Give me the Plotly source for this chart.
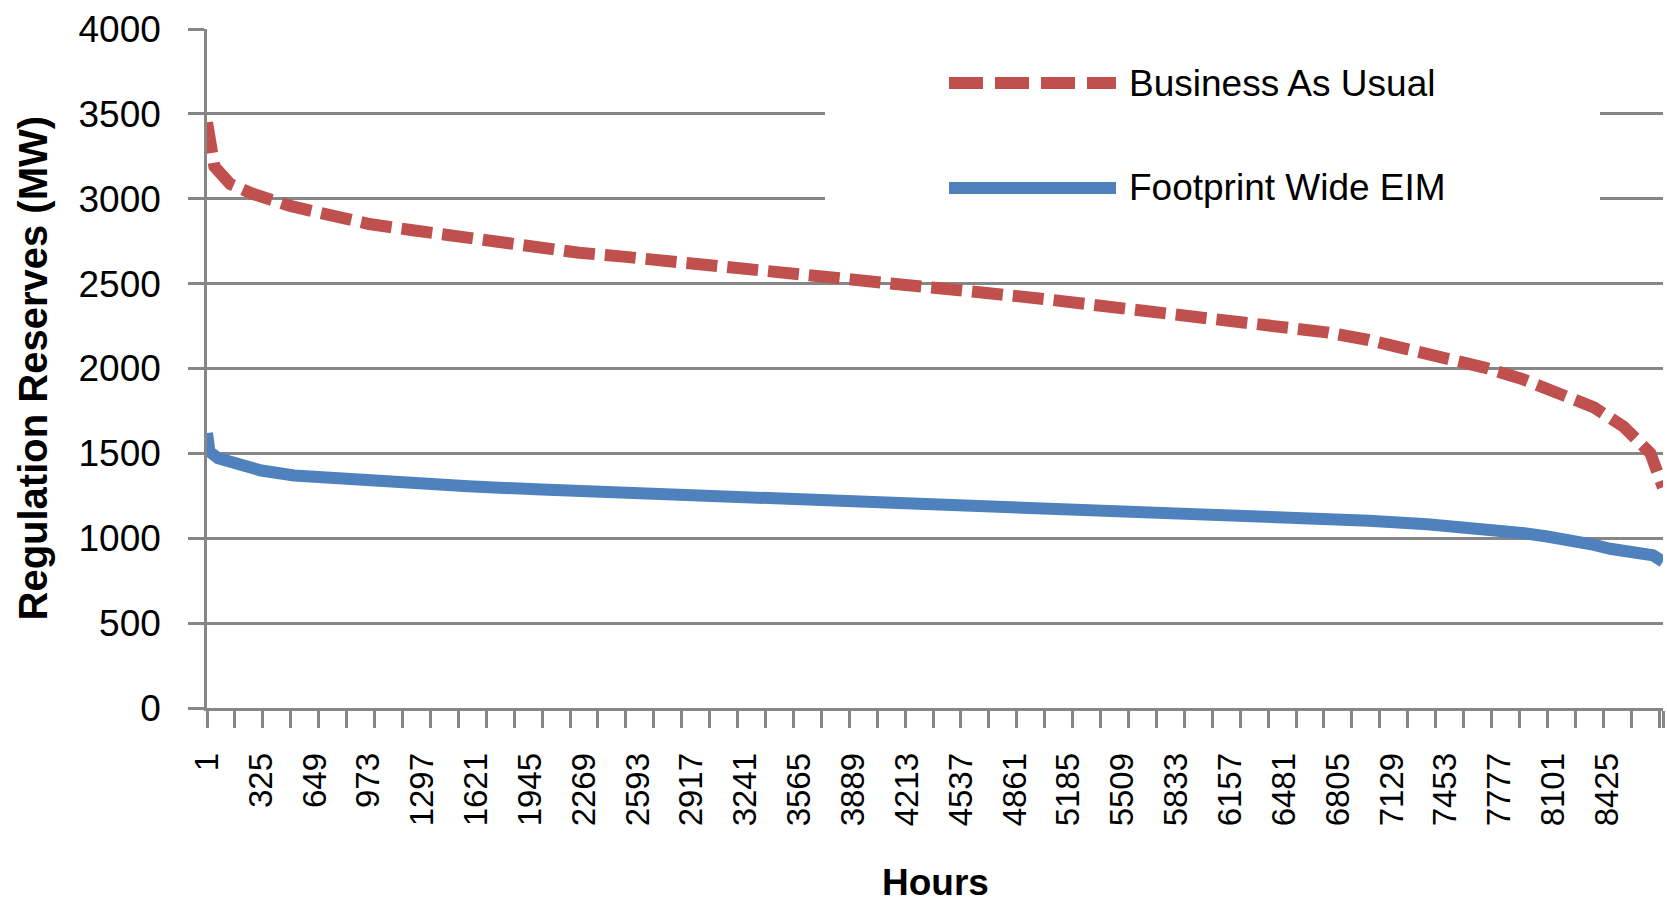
import plotly.graph_objects as go

# Hourly regulation reserve duration curves (hours sorted by requirement, MW)
bau_hours = [1, 20, 45, 140, 275, 495, 724, 976, 1227, 1471, 1729, 1994, 2240, 2506,
             2745, 2948, 3207, 3462, 3732, 3990, 4250, 4518, 4777, 5038, 5297, 5537,
             5826, 6134, 6475, 6736, 6989, 7220, 7461, 7693, 7908, 8143, 8345, 8524,
             8684, 8760]
bau_mw = [3450, 3280, 3190, 3087, 3029, 2959, 2909, 2851, 2816, 2781, 2744, 2717, 2682,
          2659, 2634, 2612, 2583, 2558, 2533, 2512, 2483, 2459, 2436, 2409, 2378, 2355,
          2325, 2285, 2249, 2213, 2168, 2120, 2064, 2004, 1940, 1853, 1771, 1657, 1502,
          1300]

eim_hours = [1, 15, 68, 182, 327, 525, 695, 935, 1218, 1572, 2015, 2541, 3108, 3676,
             4160, 4420, 4785, 5257, 5707, 6146, 6590, 6990, 7343, 7585, 7757, 7926,
             8064, 8233, 8347, 8443, 8600, 8700, 8760]
eim_mw = [1620, 1510, 1471, 1432, 1399, 1370, 1358, 1345, 1326, 1306, 1287, 1267, 1248,
          1234, 1215, 1212, 1196, 1174, 1157, 1140, 1122, 1103, 1083, 1066, 1048, 1029,
          1010, 986, 961, 938, 918, 900, 862]

series_names = ["Business As Usual", "Footprint Wide EIM"]
x_label_hours = list(range(1, 8761, 324))
y_ticks = list(range(0, 4001, 500))
n_hours = 8760
week = 168

RED = "#C0504D"
BLUE = "#4F81BD"
GRID = "#868686"
FONT = "Liberation Sans"

fig = go.Figure()
fig.add_trace(go.Scatter(x=bau_hours, y=bau_mw, mode="lines", name=series_names[0],
                         line=dict(color=RED, width=12, dash="31px,10px"),
                         showlegend=False))
fig.add_trace(go.Scatter(x=eim_hours, y=eim_mw, mode="lines", name=series_names[1],
                         line=dict(color=BLUE, width=12),
                         showlegend=False))

W, H = 1667, 902
L, R, T, B = 207, 4, 29, 194
pw, ph = W - L - R, H - T - B


def px(xp):
    return (xp - L) / pw


def py(yp):
    return (H - B - yp) / ph


week_marks = [0.5 + week * k for k in range(n_hours // week + 1)] + [n_hours + 0.5]

fig.update_layout(
    width=W, height=H,
    margin=dict(l=L, r=R, t=T, b=B, autoexpand=False),
    paper_bgcolor="white", plot_bgcolor="white",
    font=dict(family=FONT, color="black"),
    xaxis=dict(
        range=[0.5, n_hours + 0.5], showgrid=False, zeroline=False,
        showline=True, linecolor=GRID, linewidth=2.5,
        tickmode="array", tickvals=x_label_hours,
        ticktext=[str(v) for v in x_label_hours],
        tickangle=-90, ticks="outside", ticklen=17, tickcolor="rgba(0,0,0,0)",
        ticklabelstandoff=12,
        tickfont=dict(family=FONT, size=33, color="black"),
        minor=dict(tickmode="array", tickvals=week_marks, ticks="outside",
                   ticklen=17, tickwidth=2.5, tickcolor=GRID, showgrid=False),
    ),
    yaxis=dict(
        range=[0, 4000], tickmode="array", tickvals=y_ticks,
        showgrid=True, gridcolor=GRID, gridwidth=2.5, zeroline=False,
        showline=True, linecolor=GRID, linewidth=2.5,
        ticks="outside", ticklen=16, tickwidth=2.5, tickcolor=GRID,
        ticklabelstandoff=20,
        tickfont=dict(family=FONT, size=37, color="black"),
    ),
)

# Legend panel
fig.add_shape(type="rect", xref="paper", yref="paper", layer="above",
              x0=px(825), x1=px(1600), y0=py(250), y1=py(45),
              fillcolor="white", line=dict(width=0))
fig.add_shape(type="line", xref="paper", yref="paper", layer="above",
              x0=px(949), x1=px(1116), y0=py(83), y1=py(83),
              line=dict(color=RED, width=12, dash="34px,12px"))
fig.add_shape(type="line", xref="paper", yref="paper", layer="above",
              x0=px(949), x1=px(1116), y0=py(188), y1=py(188),
              line=dict(color=BLUE, width=12))
for name, yc in zip(series_names, [83, 188]):
    fig.add_annotation(x=px(1127), y=py(yc), xref="paper", yref="paper",
                       xanchor="left", yanchor="middle", showarrow=False,
                       text=name, font=dict(family=FONT, size=37, color="black"))

# Axis titles
fig.add_annotation(x=px(32), y=0.5, xref="paper", yref="paper",
                   xanchor="center", yanchor="middle", showarrow=False,
                   textangle=-90, text="<b>Regulation Reserves (MW)</b>",
                   font=dict(family=FONT, size=40, color="black"))
fig.add_annotation(x=0.5, y=py(882), xref="paper", yref="paper",
                   xanchor="center", yanchor="middle", showarrow=False,
                   text="<b>Hours</b>",
                   font=dict(family=FONT, size=37, color="black"))

fig.write_html("out.html")
